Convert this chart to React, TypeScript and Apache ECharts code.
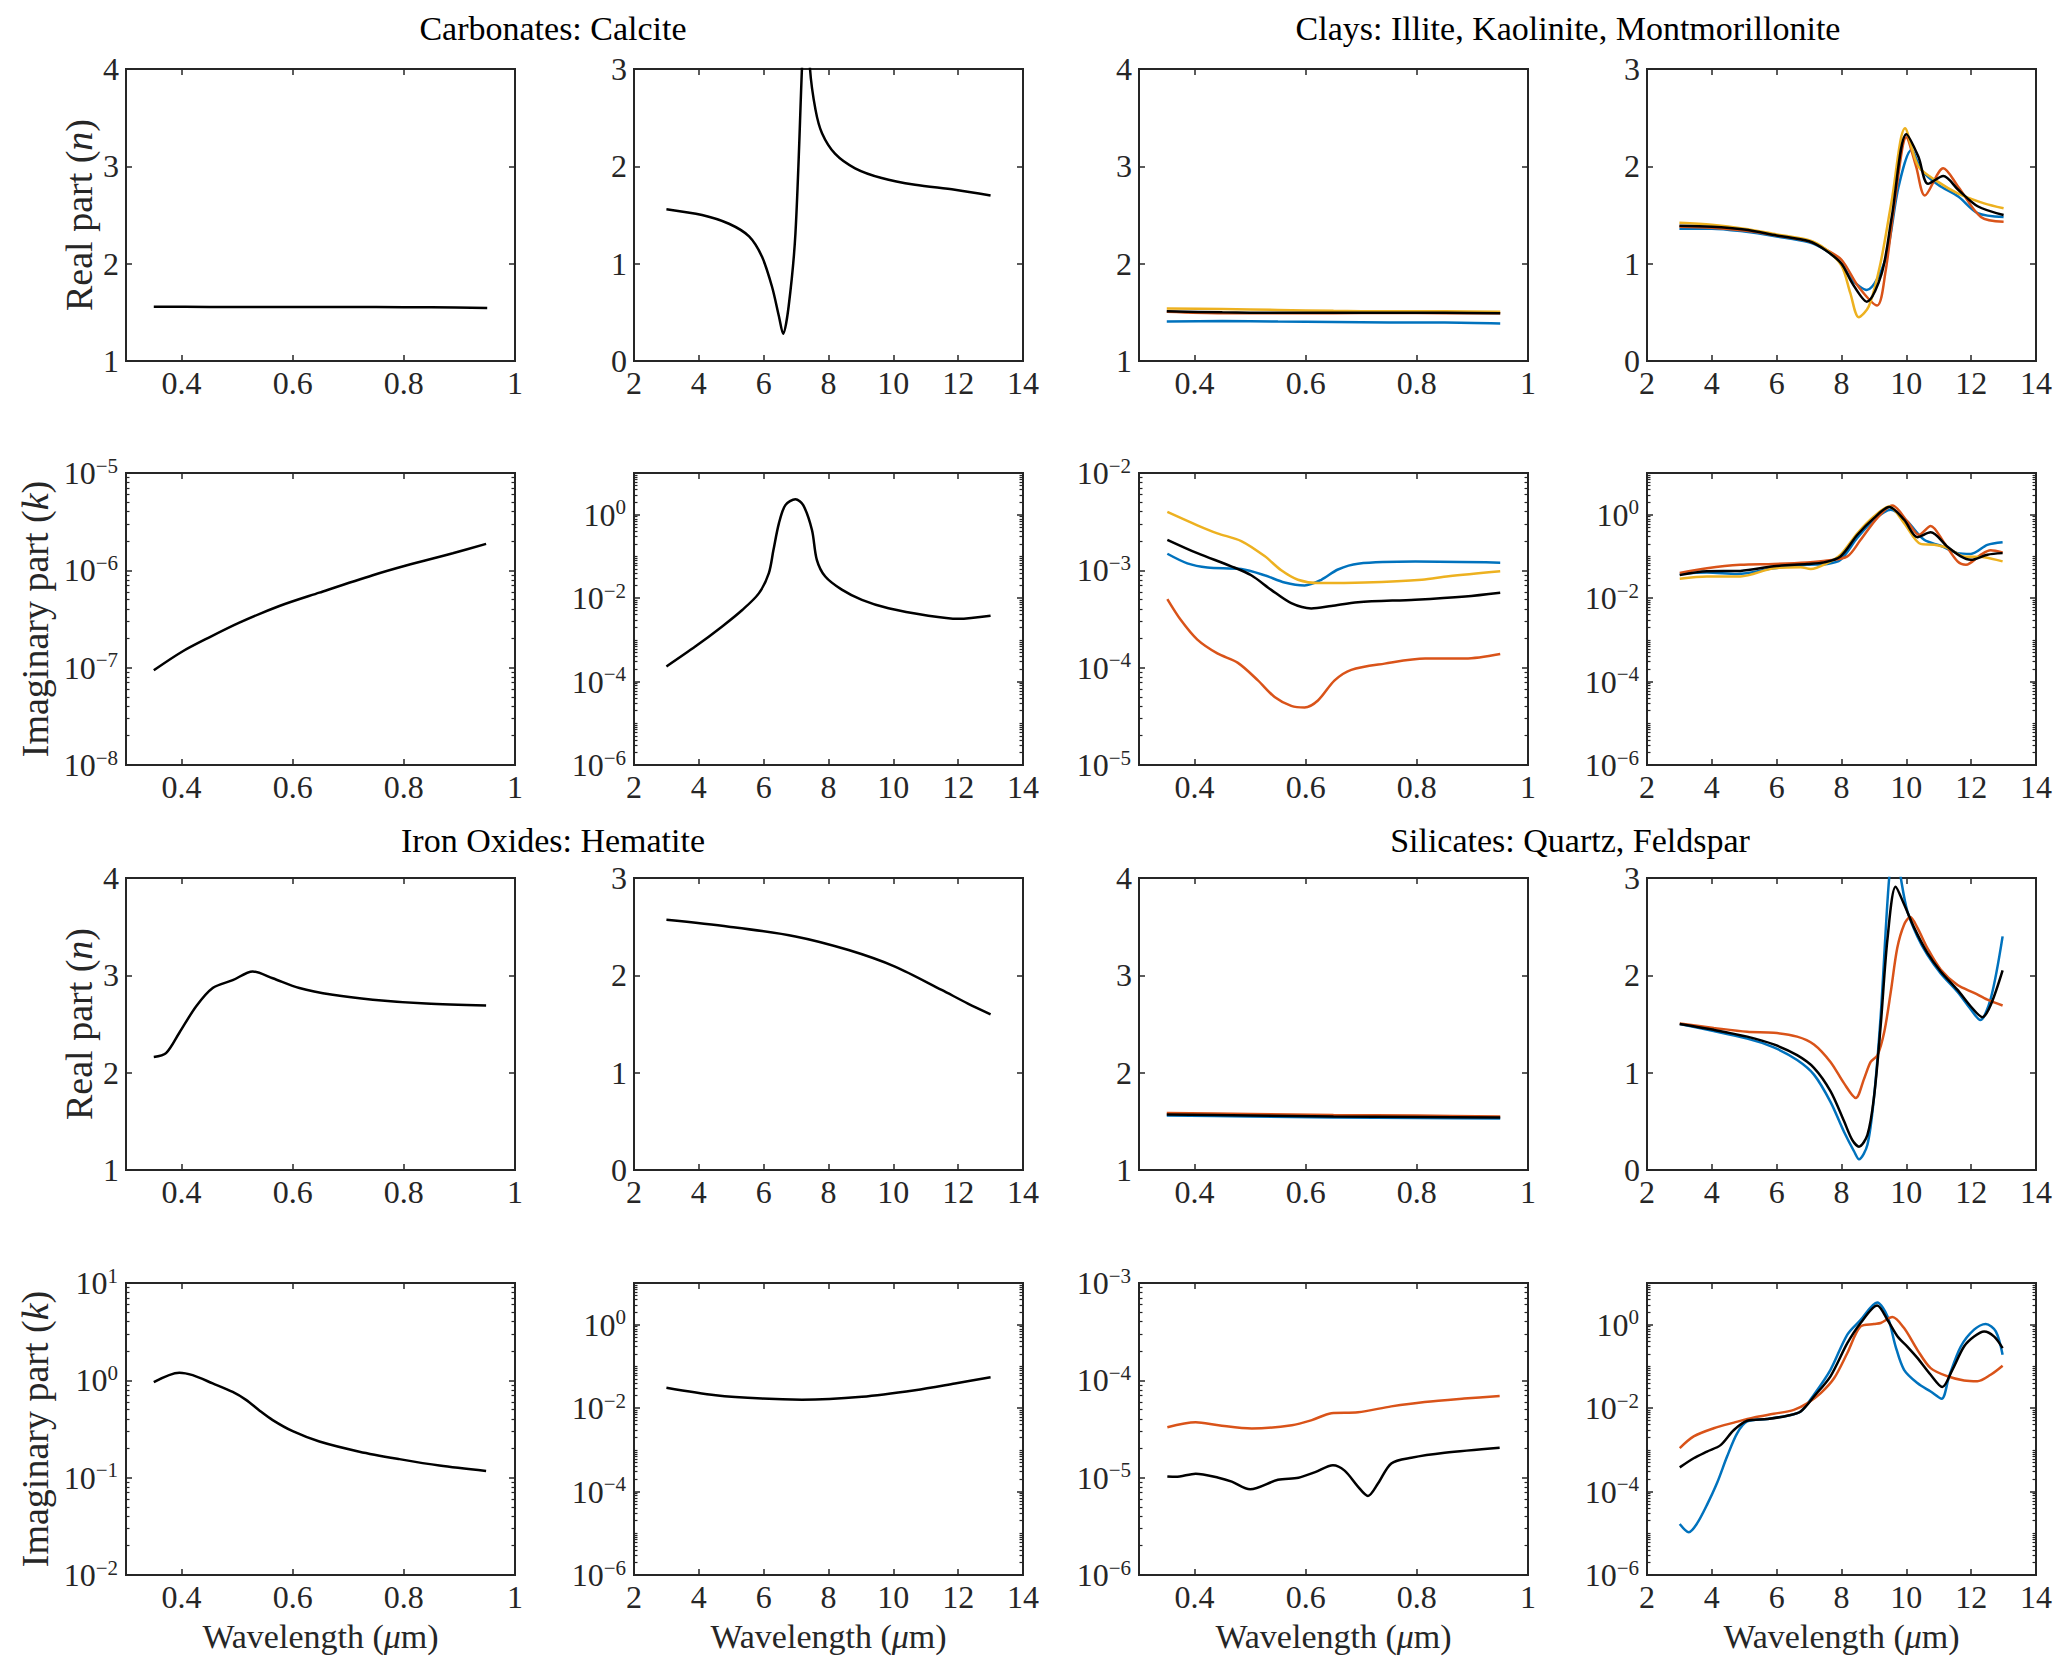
import React, { useEffect, useRef } from "react";
import * as echarts from "echarts";

const FONT = "Liberation Serif, DejaVu Serif, serif";
const AX = "#262626";
const BLUE = "#0072BD";
const ORANGE = "#D95319";
const YELLOW = "#EDB120";
const BLACK = "#000000";

// ---------- tick values ----------
const VIS_TICKS = [0.4, 0.6, 0.8, 1];
const IR_TICKS = [2, 4, 6, 8, 10, 12, 14];
const N14_TICKS = [1, 2, 3, 4];
const N03_TICKS = [0, 1, 2, 3];

// ---------- Carbonates: Calcite ----------
const calVisWl = [0.35, 0.45, 0.55, 0.65, 0.75, 0.85, 0.95];
const calVisN = [1.557, 1.556, 1.555, 1.555, 1.554, 1.552, 1.545];
const calIrWl = [3, 4.1, 4.93, 5.55, 5.95, 6.26, 6.47, 6.6, 6.77, 6.98, 7.18, 7.3, 7.43, 7.6, 7.8, 8.2, 8.82, 9.64, 10.67, 11.9, 13];
const calIrN = [1.56, 1.5, 1.41, 1.28, 1.07, 0.76, 0.46, 0.28, 0.56, 1.31, 3.0, 4.0, 3.0, 2.58, 2.34, 2.13, 1.98, 1.88, 1.81, 1.76, 1.7];
const calVisKWl = [0.35, 0.4, 0.45, 0.504, 0.576, 0.648, 0.744, 0.804, 0.888, 0.948];
const calVisK = [9.4e-8, 1.45e-7, 2.05e-7, 2.9e-7, 4.3e-7, 5.9e-7, 8.9e-7, 1.12e-6, 1.5e-6, 1.87e-6];
const calIrKWl = [3, 3.9, 4.72, 5.34, 5.85, 6.16, 6.3, 6.47, 6.67, 6.98, 7.22, 7.49, 7.64, 7.9, 8.41, 9.03, 9.85, 11.08, 12.0, 13];
const calIrK = [2.3e-4, 7e-4, 2.1e-3, 5.2e-3, 1.3e-2, 0.04, 0.14, 0.62, 1.7, 2.35, 1.7, 0.43, 0.083, 0.033, 0.016, 9.1e-3, 5.7e-3, 3.8e-3, 3.2e-3, 3.8e-3];

// ---------- Clays: Illite, Kaolinite, Montmorillonite ----------
const clayVisWl = [0.35, 0.45, 0.55, 0.65, 0.75, 0.85, 0.95];
const clayVisNBlue = [1.405, 1.41, 1.405, 1.4, 1.395, 1.395, 1.385];
const clayVisNOrange = [1.505, 1.49, 1.49, 1.49, 1.495, 1.49, 1.49];
const clayVisNYellow = [1.54, 1.535, 1.525, 1.515, 1.51, 1.51, 1.505];
const clayVisNBlack = [1.51, 1.5, 1.495, 1.495, 1.495, 1.495, 1.49];

const clayIrNBlueWl = [3, 4, 5, 6, 7, 7.5, 8, 8.33, 8.78, 9.35, 9.76, 10.16, 10.47, 10.98, 11.6, 12.2, 13];
const clayIrNBlue = [1.36, 1.36, 1.33, 1.28, 1.22, 1.14, 1.0, 0.83, 0.73, 1.04, 1.79, 2.17, 1.96, 1.81, 1.69, 1.52, 1.48];
const clayIrNOrangeWl = [3, 4, 5, 6, 7, 7.5, 8, 8.53, 9.1, 9.35, 9.65, 10.0, 10.3, 10.57, 11.14, 11.6, 12.3, 13];
const clayIrNOrange = [1.38, 1.37, 1.34, 1.29, 1.23, 1.15, 1.04, 0.76, 0.57, 0.9, 1.65, 2.3, 2.0, 1.7, 1.98, 1.79, 1.48, 1.43];
const clayIrNYellowWl = [3, 4, 5, 6, 7, 7.5, 8, 8.27, 8.53, 8.84, 9.2, 9.55, 9.96, 10.37, 10.98, 11.6, 12.4, 13];
const clayIrNYellow = [1.42, 1.4, 1.36, 1.3, 1.24, 1.15, 0.98, 0.7, 0.45, 0.56, 1.0, 1.65, 2.39, 2.0, 1.84, 1.72, 1.62, 1.57];
const clayIrNBlackWl = [3, 4, 5, 6, 7, 7.5, 8, 8.33, 8.78, 9.24, 9.55, 10.0, 10.37, 10.67, 11.14, 11.6, 12.2, 13];
const clayIrNBlack = [1.39, 1.38, 1.35, 1.29, 1.23, 1.14, 1.0, 0.8, 0.61, 0.9, 1.48, 2.33, 2.1, 1.82, 1.9, 1.76, 1.59, 1.5];

const clayVisKYellowWl = [0.351, 0.405, 0.441, 0.484, 0.526, 0.556, 0.586, 0.622, 0.706, 0.809, 0.857, 0.95];
const clayVisKYellow = [3.98e-3, 2.9e-3, 2.4e-3, 2.0e-3, 1.4e-3, 1.0e-3, 8.0e-4, 7.4e-4, 7.5e-4, 8.0e-4, 8.7e-4, 9.8e-4];
const clayVisKBlueWl = [0.351, 0.387, 0.423, 0.484, 0.526, 0.562, 0.598, 0.628, 0.658, 0.694, 0.797, 0.95];
const clayVisKBlue = [1.48e-3, 1.18e-3, 1.07e-3, 1.03e-3, 8.9e-4, 7.5e-4, 7.0e-4, 8.0e-4, 1.02e-3, 1.17e-3, 1.23e-3, 1.2e-3];
const clayVisKBlackWl = [0.351, 0.405, 0.466, 0.502, 0.538, 0.574, 0.61, 0.646, 0.694, 0.797, 0.887, 0.95];
const clayVisKBlack = [2.06e-3, 1.5e-3, 1.1e-3, 8.9e-4, 6.3e-4, 4.6e-4, 4.06e-4, 4.3e-4, 4.7e-4, 5.0e-4, 5.4e-4, 5.9e-4];
const clayVisKOrangeWl = [0.351, 0.375, 0.405, 0.441, 0.478, 0.514, 0.544, 0.574, 0.598, 0.622, 0.652, 0.682, 0.742, 0.815, 0.887, 0.95];
const clayVisKOrange = [5.06e-4, 3.1e-4, 1.94e-4, 1.4e-4, 1.12e-4, 7.4e-5, 5.0e-5, 4.05e-5, 3.9e-5, 4.6e-5, 7.4e-5, 9.5e-5, 1.1e-4, 1.24e-4, 1.24e-4, 1.38e-4];

const clayIrKBlackWl = [3.01, 3.85, 4.88, 5.91, 6.94, 7.46, 7.97, 8.49, 9.0, 9.47, 9.93, 10.34, 10.75, 11.27, 11.68, 11.99, 12.5, 12.97];
const clayIrKBlack = [0.0356, 0.044, 0.045, 0.058, 0.066, 0.072, 0.1, 0.33, 0.83, 1.53, 0.76, 0.29, 0.38, 0.17, 0.1, 0.083, 0.11, 0.12];
const clayIrKOrangeWl = [3.01, 3.85, 4.88, 5.91, 6.94, 7.56, 8.18, 8.59, 9.1, 9.57, 10.03, 10.39, 10.75, 11.17, 11.58, 11.84, 12.3, 12.6, 12.97];
const clayIrKOrange = [0.04, 0.052, 0.063, 0.066, 0.072, 0.08, 0.1, 0.25, 0.83, 1.67, 0.69, 0.33, 0.54, 0.21, 0.076, 0.063, 0.11, 0.14, 0.125];
const clayIrKBlueWl = [3.01, 3.85, 4.78, 5.91, 6.94, 7.56, 7.97, 8.49, 9.0, 9.52, 10.03, 10.55, 11.06, 11.58, 11.99, 12.5, 12.97];
const clayIrKBlue = [0.038, 0.041, 0.038, 0.052, 0.063, 0.066, 0.083, 0.28, 0.76, 1.32, 0.69, 0.25, 0.18, 0.12, 0.115, 0.19, 0.22];
const clayIrKYellowWl = [3.01, 3.85, 4.88, 5.91, 6.74, 7.05, 7.56, 7.97, 8.49, 9.0, 9.47, 9.93, 10.44, 10.86, 11.27, 11.78, 12.4, 12.97];
const clayIrKYellow = [0.029, 0.033, 0.033, 0.052, 0.055, 0.05, 0.069, 0.11, 0.36, 0.91, 1.58, 0.63, 0.2, 0.19, 0.16, 0.1, 0.096, 0.076];

// ---------- Iron Oxides: Hematite ----------
const hemVisNWl = [0.35, 0.372, 0.396, 0.426, 0.456, 0.492, 0.528, 0.564, 0.612, 0.672, 0.744, 0.84, 0.948];
const hemVisN = [2.16, 2.2, 2.41, 2.68, 2.87, 2.95, 3.04, 2.97, 2.87, 2.8, 2.75, 2.71, 2.69];
const hemIrNWl = [3, 4.93, 6.98, 8.62, 10.05, 11.49, 12.3, 13];
const hemIrN = [2.57, 2.5, 2.4, 2.26, 2.09, 1.85, 1.71, 1.6];
const hemVisKWl = [0.35, 0.396, 0.42, 0.456, 0.492, 0.516, 0.54, 0.564, 0.6, 0.648, 0.72, 0.792, 0.864, 0.948];
const hemVisK = [0.96, 1.2, 1.13, 0.93, 0.76, 0.63, 0.49, 0.39, 0.3, 0.235, 0.185, 0.155, 0.133, 0.117];
const hemIrKWl = [3, 4.52, 5.95, 7.18, 9.03, 10.67, 11.9, 13];
const hemIrK = [0.031, 0.0205, 0.017, 0.016, 0.0188, 0.027, 0.039, 0.055];

// ---------- Silicates: Quartz, Feldspar ----------
const silVisNWl = [0.35, 0.5, 0.65, 0.8, 0.95];
const silVisNBlue = [1.56, 1.55, 1.54, 1.535, 1.53];
const silVisNOrange = [1.585, 1.575, 1.565, 1.56, 1.55];
const silVisNBlack = [1.57, 1.56, 1.55, 1.545, 1.54];

const silIrNBlackWl = [3.01, 4.06, 5.09, 5.91, 6.63, 7.15, 7.66, 8.08, 8.33, 8.54, 8.8, 9.0, 9.21, 9.42, 9.67, 9.93, 10.24, 10.65, 11.06, 11.58, 11.99, 12.35, 12.61, 12.97];
const silIrNBlack = [1.5, 1.44, 1.37, 1.29, 1.18, 1.05, 0.81, 0.5, 0.31, 0.24, 0.36, 0.74, 1.49, 2.38, 2.91, 2.73, 2.49, 2.23, 2.04, 1.85, 1.68, 1.57, 1.7, 2.05];
const silIrNBlueWl = [3.01, 5.09, 5.91, 6.63, 7.15, 7.66, 8.08, 8.39, 8.54, 8.8, 9.0, 9.21, 9.47, 9.65, 9.83, 10.03, 10.34, 10.65, 11.06, 11.58, 11.99, 12.28, 12.61, 12.97];
const silIrNBlue = [1.5, 1.35, 1.26, 1.13, 0.98, 0.7, 0.39, 0.19, 0.11, 0.26, 0.74, 1.59, 3.0, 3.4, 3.0, 2.66, 2.4, 2.21, 2.02, 1.83, 1.65, 1.54, 1.77, 2.4];
const silIrNOrangeWl = [3.01, 4.06, 5.09, 5.91, 6.63, 7.15, 7.66, 8.08, 8.44, 8.7, 8.9, 9.11, 9.32, 9.52, 9.72, 9.93, 10.12, 10.34, 10.65, 11.06, 11.58, 12.09, 12.5, 12.97];
const silIrNOrange = [1.505, 1.46, 1.42, 1.41, 1.37, 1.29, 1.11, 0.89, 0.74, 0.94, 1.11, 1.18, 1.42, 1.83, 2.28, 2.52, 2.6, 2.49, 2.28, 2.06, 1.9, 1.82, 1.75, 1.69];

const silVisKOrangeWl = [0.351, 0.402, 0.443, 0.503, 0.575, 0.611, 0.646, 0.694, 0.754, 0.814, 0.885, 0.949];
const silVisKOrange = [3.3e-5, 3.7e-5, 3.45e-5, 3.2e-5, 3.45e-5, 3.9e-5, 4.6e-5, 4.7e-5, 5.4e-5, 6.0e-5, 6.5e-5, 6.9e-5];
const silVisKBlackWl = [0.351, 0.366, 0.402, 0.443, 0.467, 0.5, 0.55, 0.587, 0.617, 0.649, 0.67, 0.694, 0.712, 0.73, 0.754, 0.79, 0.85, 0.949];
const silVisKBlack = [1.03e-5, 1.02e-5, 1.1e-5, 1.0e-5, 9.1e-6, 7.6e-6, 9.5e-6, 1.0e-5, 1.14e-5, 1.34e-5, 1.18e-5, 8.1e-6, 6.5e-6, 8.7e-6, 1.4e-5, 1.6e-5, 1.8e-5, 2.03e-5];

const silIrKBlackWl = [3.01, 3.44, 3.85, 4.27, 4.68, 5.09, 5.71, 6.33, 6.74, 7.15, 7.66, 8.18, 8.59, 9.1, 9.42, 9.73, 10.03, 10.34, 10.75, 11.11, 11.42, 11.78, 12.09, 12.4, 12.71, 12.97];
const silIrKBlack = [3.8e-4, 6.3e-4, 9.1e-4, 1.3e-3, 3.0e-3, 5.0e-3, 5.5e-3, 6.6e-3, 8.3e-3, 0.019, 0.058, 0.36, 1.1, 2.9, 1.3, 0.52, 0.3, 0.16, 0.063, 0.032, 0.083, 0.3, 0.52, 0.69, 0.52, 0.275];
const silIrKBlueWl = [3.01, 3.29, 3.54, 3.85, 4.16, 4.47, 4.78, 5.09, 5.71, 6.33, 6.74, 7.15, 7.66, 8.18, 8.59, 9.1, 9.42, 9.67, 9.93, 10.34, 10.75, 11.09, 11.32, 11.68, 12.09, 12.45, 12.76, 12.97];
const silIrKBlue = [1.67e-5, 1.06e-5, 1.7e-5, 4.8e-5, 1.6e-4, 6.9e-4, 2.5e-3, 4.8e-3, 5.5e-3, 6.6e-3, 8.3e-3, 0.021, 0.083, 0.58, 1.3, 3.4, 1.58, 0.3, 0.083, 0.04, 0.025, 0.0168, 0.058, 0.3, 0.76, 1.04, 0.69, 0.19];
const silIrKOrangeWl = [3.01, 3.44, 4.06, 4.68, 5.3, 5.91, 6.53, 6.94, 7.36, 7.77, 8.18, 8.59, 9.0, 9.21, 9.57, 9.93, 10.34, 10.75, 11.27, 11.78, 12.19, 12.6, 12.97];
const silIrKOrange = [1.1e-3, 2.1e-3, 3.3e-3, 4.5e-3, 6.0e-3, 7.3e-3, 9.1e-3, 0.013, 0.023, 0.052, 0.21, 0.91, 1.04, 1.1, 1.53, 0.83, 0.25, 0.091, 0.058, 0.046, 0.044, 0.063, 0.104];

// ---------- titles ----------
const GROUP_TITLES = [
  "Carbonates: Calcite",
  "Clays: Illite, Kaolinite, Montmorillonite",
  "Iron Oxides: Hematite",
  "Silicates: Quartz, Feldspar",
];

// ---------- layout ----------
const COL_LEFT = [126, 634, 1139, 1647];
const ROW_TOP = [69, 473, 878, 1283];
const PW = 389;
const PH = 292;

type Line = [number[], number[], string];
type Panel = {
  row: number;
  col: number;
  ir: boolean;
  lin?: "n14" | "n03";
  log?: [number, number, number];
  lines: Line[];
};

const panels: Panel[] = [
  { row: 0, col: 0, ir: false, lin: "n14", lines: [[calVisWl, calVisN, BLACK]] },
  { row: 0, col: 1, ir: true, lin: "n03", lines: [[calIrWl, calIrN, BLACK]] },
  {
    row: 0, col: 2, ir: false, lin: "n14",
    lines: [
      [clayVisWl, clayVisNBlue, BLUE],
      [clayVisWl, clayVisNOrange, ORANGE],
      [clayVisWl, clayVisNYellow, YELLOW],
      [clayVisWl, clayVisNBlack, BLACK],
    ],
  },
  {
    row: 0, col: 3, ir: true, lin: "n03",
    lines: [
      [clayIrNBlueWl, clayIrNBlue, BLUE],
      [clayIrNOrangeWl, clayIrNOrange, ORANGE],
      [clayIrNYellowWl, clayIrNYellow, YELLOW],
      [clayIrNBlackWl, clayIrNBlack, BLACK],
    ],
  },
  { row: 1, col: 0, ir: false, log: [-8, -5, 1], lines: [[calVisKWl, calVisK, BLACK]] },
  { row: 1, col: 1, ir: true, log: [-6, 1, 2], lines: [[calIrKWl, calIrK, BLACK]] },
  {
    row: 1, col: 2, ir: false, log: [-5, -2, 1],
    lines: [
      [clayVisKBlueWl, clayVisKBlue, BLUE],
      [clayVisKOrangeWl, clayVisKOrange, ORANGE],
      [clayVisKYellowWl, clayVisKYellow, YELLOW],
      [clayVisKBlackWl, clayVisKBlack, BLACK],
    ],
  },
  {
    row: 1, col: 3, ir: true, log: [-6, 1, 2],
    lines: [
      [clayIrKBlueWl, clayIrKBlue, BLUE],
      [clayIrKOrangeWl, clayIrKOrange, ORANGE],
      [clayIrKYellowWl, clayIrKYellow, YELLOW],
      [clayIrKBlackWl, clayIrKBlack, BLACK],
    ],
  },
  { row: 2, col: 0, ir: false, lin: "n14", lines: [[hemVisNWl, hemVisN, BLACK]] },
  { row: 2, col: 1, ir: true, lin: "n03", lines: [[hemIrNWl, hemIrN, BLACK]] },
  {
    row: 2, col: 2, ir: false, lin: "n14",
    lines: [
      [silVisNWl, silVisNBlue, BLUE],
      [silVisNWl, silVisNOrange, ORANGE],
      [silVisNWl, silVisNBlack, BLACK],
    ],
  },
  {
    row: 2, col: 3, ir: true, lin: "n03",
    lines: [
      [silIrNBlueWl, silIrNBlue, BLUE],
      [silIrNOrangeWl, silIrNOrange, ORANGE],
      [silIrNBlackWl, silIrNBlack, BLACK],
    ],
  },
  { row: 3, col: 0, ir: false, log: [-2, 1, 1], lines: [[hemVisKWl, hemVisK, BLACK]] },
  { row: 3, col: 1, ir: true, log: [-6, 1, 2], lines: [[hemIrKWl, hemIrK, BLACK]] },
  {
    row: 3, col: 2, ir: false, log: [-6, -3, 1],
    lines: [
      [silVisKOrangeWl, silVisKOrange, ORANGE],
      [silVisKBlackWl, silVisKBlack, BLACK],
    ],
  },
  {
    row: 3, col: 3, ir: true, log: [-6, 1, 2],
    lines: [
      [silIrKBlueWl, silIrKBlue, BLUE],
      [silIrKOrangeWl, silIrKOrange, ORANGE],
      [silIrKBlackWl, silIrKBlack, BLACK],
    ],
  },
];

const pow10 = (e: number) => Number("1e" + e);
const zip = (xs: number[], ys: number[]) => xs.map((x, i) => [x, ys[i]]);

function buildOption() {
  const grid: any[] = [];
  const xAxis: any[] = [];
  const yAxis: any[] = [];
  const series: any[] = [];

  const tickStyle = { color: AX, width: 1.5 };
  const labelBase = { fontFamily: FONT, fontSize: 32, color: AX };
  const logRich = {
    b: { fontFamily: FONT, fontSize: 32, color: AX, lineHeight: 36 },
    s: { fontFamily: FONT, fontSize: 21, color: AX, lineHeight: 21, verticalAlign: "top" },
  };
  const logFmt = (v: number) => {
    const e = Math.round(Math.log10(v));
    return `{b|10}{s|${e < 0 ? "\u2212" + -e : e}}`;
  };
  const linFmt = (v: number) => String(Math.round(v * 100) / 100);

  panels.forEach((p, gi) => {
    grid.push({
      left: COL_LEFT[p.col],
      top: ROW_TOP[p.row],
      width: PW,
      height: PH,
      show: true,
      borderColor: AX,
      borderWidth: 2,
      backgroundColor: "transparent",
    });
    const xmin = p.ir ? 2 : 0.3;
    const xmax = p.ir ? 14 : 1;
    const xt = p.ir ? IR_TICKS : VIS_TICKS;
    const xi = xAxis.length;
    xAxis.push({
      type: "value",
      gridIndex: gi,
      position: "bottom",
      min: xmin,
      max: xmax,
      axisLine: { show: false, onZero: false },
      splitLine: { show: false },
      axisTick: { show: true, inside: true, length: 6, customValues: xt, lineStyle: tickStyle },
      axisLabel: { show: true, customValues: xt, margin: 6, formatter: linFmt, ...labelBase },
      name: p.row === 3 ? "Wavelength ({i|\u03bc}m)" : "",
      nameLocation: "middle",
      nameGap: 44,
      nameTextStyle: {
        fontFamily: FONT,
        fontSize: 34,
        color: AX,
        rich: { i: { fontFamily: FONT, fontSize: 34, color: AX, fontStyle: "italic" } },
      },
    });
    xAxis.push({
      type: "value",
      gridIndex: gi,
      position: "top",
      min: xmin,
      max: xmax,
      axisLine: { show: false, onZero: false },
      splitLine: { show: false },
      axisTick: { show: true, inside: true, length: 6, customValues: xt, lineStyle: tickStyle },
      axisLabel: { show: false },
    });

    const yi = yAxis.length;
    let yName = "";
    let yGap = 28;
    if (p.col === 0) {
      if (p.log) {
        yName = "Imaginary part ({i|k})";
        yGap = 72;
      } else {
        yName = "Real part ({i|n})";
        yGap = 28;
      }
    }
    const nameStyle = {
      fontFamily: FONT,
      fontSize: 38,
      color: AX,
      rich: { i: { fontFamily: FONT, fontSize: 38, color: AX, fontStyle: "italic" } },
    };

    if (p.log) {
      const [e0, e1, step] = p.log;
      const majorsE: number[] = [];
      for (let e = e0; e <= e1; e += step) majorsE.push(e);
      const majors = majorsE.map(pow10);
      const minors: number[] = [];
      for (let e = e0; e < e1; e++) {
        for (let m = 1; m <= 9; m++) {
          if (m === 1 && majorsE.includes(e)) continue;
          minors.push(m * pow10(e));
        }
      }
      const common = {
        type: "log",
        logBase: 10,
        gridIndex: gi,
        min: pow10(e0),
        max: pow10(e1),
        axisLine: { show: false, onZero: false },
        splitLine: { show: false },
        minorTick: { show: false },
      };
      yAxis.push({
        ...common,
        position: "left",
        axisTick: { show: true, inside: true, length: 6, customValues: majors, lineStyle: tickStyle },
        axisLabel: { show: true, customValues: majors, margin: 8, formatter: logFmt, rich: logRich, ...labelBase },
        name: yName,
        nameLocation: "middle",
        nameGap: yGap,
        nameRotate: 90,
        nameTextStyle: nameStyle,
      });
      yAxis.push({
        ...common,
        position: "right",
        axisTick: { show: true, inside: true, length: 6, customValues: majors, lineStyle: tickStyle },
        axisLabel: { show: false },
      });
      yAxis.push({
        ...common,
        position: "left",
        axisTick: { show: true, inside: true, length: 3.5, customValues: minors, lineStyle: { color: AX, width: 1.2 } },
        axisLabel: { show: false },
      });
      yAxis.push({
        ...common,
        position: "right",
        axisTick: { show: true, inside: true, length: 3.5, customValues: minors, lineStyle: { color: AX, width: 1.2 } },
        axisLabel: { show: false },
      });
    } else {
      const yt = p.lin === "n14" ? N14_TICKS : N03_TICKS;
      const common = {
        type: "value",
        gridIndex: gi,
        min: yt[0],
        max: yt[yt.length - 1],
        axisLine: { show: false, onZero: false },
        splitLine: { show: false },
      };
      yAxis.push({
        ...common,
        position: "left",
        axisTick: { show: true, inside: true, length: 6, customValues: yt, lineStyle: tickStyle },
        axisLabel: { show: true, customValues: yt, margin: 7, formatter: linFmt, ...labelBase },
        name: yName,
        nameLocation: "middle",
        nameGap: yGap,
        nameRotate: 90,
        nameTextStyle: nameStyle,
      });
      yAxis.push({
        ...common,
        position: "right",
        axisTick: { show: true, inside: true, length: 6, customValues: yt, lineStyle: tickStyle },
        axisLabel: { show: false },
      });
    }

    p.lines.forEach(([wl, v, color], li) => {
      series.push({
        type: "line",
        xAxisIndex: xi,
        yAxisIndex: yi,
        data: zip(wl, v),
        showSymbol: false,
        symbol: "none",
        smooth: 0.3,
        silent: true,
        clip: true,
        z: 2 + li,
        lineStyle: { color, width: 2.5 },
        itemStyle: { color },
      });
    });
  });

  const titleStyle = (text: string, x: number, y: number) => ({
    type: "text",
    x,
    y,
    silent: true,
    style: {
      text,
      fontFamily: FONT,
      fontSize: 34,
      fill: "#000",
      align: "center",
      verticalAlign: "middle",
      textAlign: "center",
      textVerticalAlign: "middle",
    },
  });

  return {
    animation: false,
    backgroundColor: "#ffffff",
    grid,
    xAxis,
    yAxis,
    series,
    graphic: [
      titleStyle(GROUP_TITLES[0], 553, 28),
      titleStyle(GROUP_TITLES[1], 1568, 28),
      titleStyle(GROUP_TITLES[2], 553, 840),
      titleStyle(GROUP_TITLES[3], 1570, 840),
    ],
  };
}

export default function App() {
  const ref = useRef<HTMLDivElement>(null);
  useEffect(() => {
    if (!ref.current) return;
    const chart = echarts.init(ref.current, undefined, { renderer: "svg" });
    chart.setOption(buildOption() as any);
    return () => chart.dispose();
  }, []);
  return (
    <div
      ref={ref}
      style={{ position: "absolute", left: 0, top: 0, width: 2067, height: 1674, background: "#fff" }}
    />
  );
}
